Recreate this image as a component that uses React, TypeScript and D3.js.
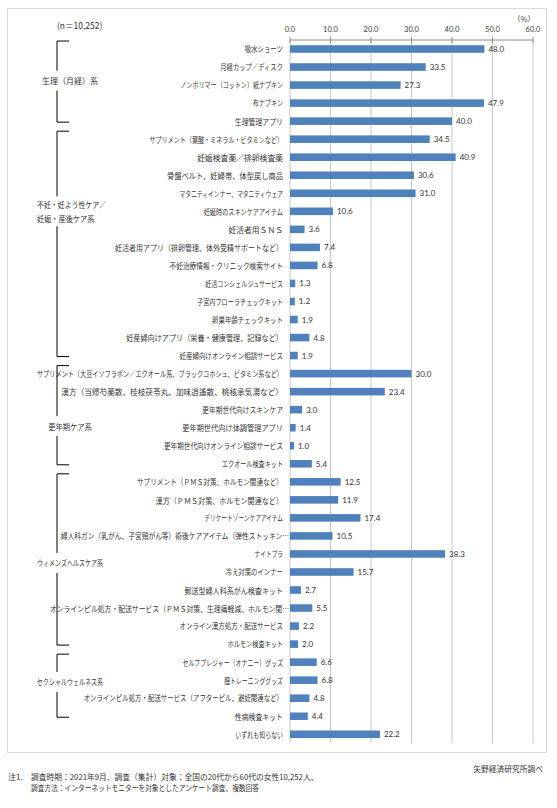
import React from 'react';
import * as d3 from 'd3';

const categories = [
  '吸水ショーツ',
  '月経カップ／ディスク',
  'ノンポリマー（コットン）紙ナプキン',
  '布ナプキン',
  '生理管理アプリ',
  'サプリメント（葉酸・ミネラル・ビタミンなど）',
  '妊娠検査薬／排卵検査薬',
  '骨盤ベルト、妊婦帯、体型戻し商品',
  'マタニティインナー、マタニティウェア',
  '妊娠時のスキンケアアイテム',
  '妊活者用ＳＮＳ',
  '妊活者用アプリ（排卵管理、体外受精サポートなど）',
  '不妊治療情報・クリニック検索サイト',
  '妊活コンシェルジュサービス',
  '子宮内フローラチェックキット',
  '卵巣年齢チェックキット',
  '妊産婦向けアプリ（栄養・健康管理、記録など）',
  '妊産婦向けオンライン相談サービス',
  'サプリメント（大豆イソフラボン／エクオール系、ブラックコホシュ、ビタミン系など）',
  '漢方（当帰芍薬散、桂枝茯苓丸、加味逍遙散、桃核承気湯など）',
  '更年期世代向けスキンケア',
  '更年期世代向け体調管理アプリ',
  '更年期世代向けオンライン相談サービス',
  'エクオール検査キット',
  'サプリメント（ＰＭＳ対策、ホルモン関連など）',
  '漢方（ＰＭＳ対策、ホルモン関連など）',
  'デリケートゾーンケアアイテム',
  '婦人科ガン（乳がん、子宮頸がん等）術後ケアアイテム（弾性ストッキン…',
  'ナイトブラ',
  '冷え対策のインナー',
  '郵送型婦人科系がん検査キット',
  'オンラインピル処方・配送サービス（ＰＭＳ対策、生理痛軽減、ホルモン関…',
  'オンライン漢方処方・配送サービス',
  'ホルモン検査キット',
  'セルフプレジャー（オナニー）グッズ',
  '膣トレーニンググッズ',
  'オンラインピル処方・配送サービス（アフターピル、避妊関連など）',
  '性病検査キット',
  'いずれも知らない',
];

const values = [
  48.0, 33.5, 27.3, 47.9, 40.0,
  34.5, 40.9, 30.6, 31.0, 10.6, 3.6, 7.4, 6.8, 1.3, 1.2, 1.9, 4.8, 1.9,
  30.0, 23.4, 3.0, 1.4, 1.0, 5.4,
  12.5, 11.9, 17.4, 10.5, 38.3, 15.7, 2.7, 5.5, 2.2, 2.0,
  6.6, 6.8, 4.8, 4.4,
  22.2,
];

const groupNames = [
  ['生理（月経）系'],
  ['不妊・妊よう性ケア／', '妊娠・産後ケア系'],
  ['更年期ケア系'],
  ['ウィメンズヘルスケア系'],
  ['セクシャルウェルネス系'],
];
const groupSizes = [5, 13, 6, 10, 4];

const xTicks = [0, 10, 20, 30, 40, 50, 60];

const sampleNote = '(n＝10,252)';
const unitNote = '（%）';
const footerMark = '注1.';
const footer1 = '調査時期：2021年9月、調査（集計）対象：全国の20代から60代の女性10,252人、';
const footer2 = '調査方法：インターネットモニターを対象としたアンケート調査、複数回答';
const source = '矢野経済研究所調べ';

// layout (not data)
const groupLabelRow = [1.75, 9, 20.9, 28.5, 35.1];

const JP = "'Noto Sans CJK JP', sans-serif";
const NUM = "Lato, 'Liberation Sans', sans-serif";
const BAR = '#4f81bd';
const TXT = '#333';

// approximate the proportional (narrow kana) Japanese UI font of the original
function widthUnits(s: string, kana: number): number {
  let w = 0;
  for (const ch of s) {
    const c = ch.codePointAt(0) as number;
    if (c < 0x80) w += ch === ' ' ? 0.3 : 0.55;
    else if ((c >= 0x3040 && c <= 0x30ff) || (c >= 0xff66 && c <= 0xff9f)) w += kana;
    else w += 1;
  }
  return w;
}

type JTProps = {
  x: number;
  y: number;
  text: string;
  fs: number;
  anchor?: 'start' | 'middle' | 'end';
};
function JText({ x, y, text, fs, anchor = 'start' }: JTProps) {
  const k = widthUnits(text, 0.73) / widthUnits(text, 1);
  return (
    <text
      transform={`translate(${x},${y}) scale(${k.toFixed(4)},1)`}
      textAnchor={anchor}
      dominantBaseline="central"
      fontFamily={JP}
      fontSize={fs}
      fill={TXT}
    >
      {text}
    </text>
  );
}

export default function App() {
  const x = d3.scaleLinear().domain([0, 60]).range([290, 533]);
  const ids = categories.map((_, i) => String(i));
  const y = d3.scaleBand<string>().domain(ids).range([40, 743.3]).paddingInner(0.58).paddingOuter(0.29);
  const cy = (i: number) => (y(String(i)) as number) + y.bandwidth() / 2;
  const rowY = (r: number) => cy(0) + r * y.step();

  const groups: { start: number; end: number }[] = [];
  let acc = 0;
  groupSizes.forEach((s) => {
    groups.push({ start: acc, end: acc + s - 1 });
    acc += s;
  });

  return (
    <svg width={557} height={808} style={{ position: 'absolute', left: 0, top: 0, background: '#fff' }}>
      <rect x={7.5} y={8.5} width={539} height={744} fill="#fff" stroke="#d9d9d9" />
      {/* gridlines */}
      {xTicks.map((t) => (
        <line key={'g' + t} x1={x(t)} x2={x(t)} y1={40} y2={743.3} stroke="#c6c6c6" strokeWidth={1} />
      ))}
      {/* axis */}
      <line x1={x(0)} x2={x(60)} y1={40} y2={40} stroke="#8c8c8c" />
      {xTicks.map((t) => (
        <g key={'t' + t}>
          <line x1={x(t)} x2={x(t)} y1={37} y2={43} stroke="#8c8c8c" />
          <text x={x(t)} y={29} textAnchor="middle" dominantBaseline="central" fontFamily={NUM} fontSize={7.5} fill="#404040">
            {t.toFixed(1)}
          </text>
        </g>
      ))}
      <text x={524} y={18} textAnchor="middle" dominantBaseline="central" fontFamily={JP} fontSize={7.5} fill="#404040">
        {unitNote}
      </text>
      {/* bars */}
      {values.map((v, i) => (
        <g key={'b' + i}>
          <rect x={x(0)} y={y(String(i))} width={x(v) - x(0)} height={y.bandwidth()} fill={BAR} />
          <text x={x(v) + 4} y={cy(i)} dominantBaseline="central" fontFamily={NUM} fontSize={8} fill={TXT}>
            {v.toFixed(1)}
          </text>
        </g>
      ))}
      {/* category labels */}
      {categories.map((c, i) => (
        <JText key={'c' + i} x={c.endsWith('…') ? 289 : 283} y={cy(i)} text={c} fs={7.8} anchor="end" />
      ))}
      {/* brackets */}
      {groups.map((g, gi) => {
        const top = cy(g.start) - 8;
        const bottom = cy(g.end) + 1;
        const ly = rowY(groupLabelRow[gi]);
        const lines = groupNames[gi];
        const multi = lines.length > 1;
        const half = multi ? 15 : 10;
        return (
          <g key={'gr' + gi}>
            <path d={`M69,${top}H57V${bottom}H69`} fill="none" stroke="#000" strokeWidth={1} />
            <rect x={50} y={ly - half} width={14} height={half * 2} fill="#fff" />
            {lines.map((l, li) => (
              <JText
                key={li}
                x={multi ? 37 : 70}
                y={ly + (li - (lines.length - 1) / 2) * 15}
                text={l}
                fs={8}
                anchor={multi ? 'start' : 'middle'}
              />
            ))}
          </g>
        );
      })}
      <text x={57} y={25} dominantBaseline="central" fontFamily={JP} fontSize={8.5} fill={TXT}>
        {sampleNote}
      </text>
      {/* footer */}
      <JText x={543} y={768} text={source} fs={8} anchor="end" />
      <JText x={8} y={776} text={footerMark} fs={8} />
      <JText x={31} y={776} text={footer1} fs={8} />
      <JText x={31} y={787} text={footer2} fs={8} />
    </svg>
  );
}
